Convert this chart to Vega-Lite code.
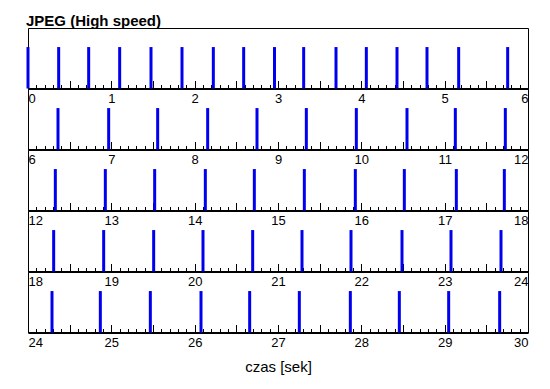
{
  "$schema": "https://vega.github.io/schema/vega-lite/v6.json",
  "padding": {"left": 26, "top": 13, "right": 24, "bottom": 10},
  "background": "white",
  "title": {"text": "JPEG (High speed)", "anchor": "start", "font": "Liberation Sans", "fontSize": 15, "fontWeight": "bold", "color": "black", "baseline": "bottom", "offset": -16},
  "data": {"values": [
    {"t": 0.0}, {"t": 0.368}, {"t": 0.728}, {"t": 1.1}, {"t": 1.476}, {"t": 1.848}, {"t": 2.224}, {"t": 2.588}, {"t": 2.958},
    {"t": 3.308}, {"t": 3.696}, {"t": 4.06}, {"t": 4.428}, {"t": 4.788}, {"t": 5.168}, {"t": 5.756},
    {"t": 6.36}, {"t": 6.968}, {"t": 7.556}, {"t": 8.156}, {"t": 8.748}, {"t": 9.34}, {"t": 9.94}, {"t": 10.548}, {"t": 11.128}, {"t": 11.728},
    {"t": 12.328}, {"t": 12.928}, {"t": 13.52}, {"t": 14.128}, {"t": 14.716}, {"t": 15.316}, {"t": 15.928}, {"t": 16.516}, {"t": 17.14}, {"t": 17.716},
    {"t": 18.308}, {"t": 18.908}, {"t": 19.508}, {"t": 20.1}, {"t": 20.696}, {"t": 21.288}, {"t": 21.876}, {"t": 22.488}, {"t": 23.076}, {"t": 23.676},
    {"t": 24.288}, {"t": 24.868}, {"t": 25.468}, {"t": 26.076}, {"t": 26.66}, {"t": 27.256}, {"t": 27.868}, {"t": 28.456}, {"t": 29.048}, {"t": 29.66}
  ]},
  "bounds": "flush",
  "spacing": 0,
  "vconcat": [
    {
      "width": 500, "height": 60.5,
      "transform": [{"filter": {"field": "t", "range": [0, 5.999]}}],
      "mark": {"type": "rule", "strokeWidth": 3, "color": "#0000ee"},
      "encoding": {
        "x": {"field": "t", "type": "quantitative", "scale": {"domain": [0, 6], "nice": false, "zero": false},
          "axis": {"title": null, "tickCount": 60, "labelExpr": "abs(datum.value - round(datum.value)) < 0.001 ? format(datum.value, 'd') : ''",
            "tickSize": {"condition": {"test": "abs(datum.value*2 - round(datum.value*2)) < 0.001", "value": -8}, "value": -4}}},
        "y": {"datum": 0, "type": "quantitative", "scale": {"domain": [0, 1.46]}, "axis": null},
        "y2": {"datum": 1}
      }
    },
    {
      "width": 500, "height": 60.5,
      "transform": [{"filter": {"field": "t", "range": [6, 11.999]}}],
      "mark": {"type": "rule", "strokeWidth": 3, "color": "#0000ee"},
      "encoding": {
        "x": {"field": "t", "type": "quantitative", "scale": {"domain": [6, 12], "nice": false, "zero": false},
          "axis": {"title": null, "tickCount": 60, "labelExpr": "abs(datum.value - round(datum.value)) < 0.001 ? format(datum.value, 'd') : ''",
            "tickSize": {"condition": {"test": "abs(datum.value*2 - round(datum.value*2)) < 0.001", "value": -8}, "value": -4}}},
        "y": {"datum": 0, "type": "quantitative", "scale": {"domain": [0, 1.46]}, "axis": null},
        "y2": {"datum": 1}
      }
    },
    {
      "width": 500, "height": 60.5,
      "transform": [{"filter": {"field": "t", "range": [12, 17.999]}}],
      "mark": {"type": "rule", "strokeWidth": 3, "color": "#0000ee"},
      "encoding": {
        "x": {"field": "t", "type": "quantitative", "scale": {"domain": [12, 18], "nice": false, "zero": false},
          "axis": {"title": null, "tickCount": 60, "labelExpr": "abs(datum.value - round(datum.value)) < 0.001 ? format(datum.value, 'd') : ''",
            "tickSize": {"condition": {"test": "abs(datum.value*2 - round(datum.value*2)) < 0.001", "value": -8}, "value": -4}}},
        "y": {"datum": 0, "type": "quantitative", "scale": {"domain": [0, 1.46]}, "axis": null},
        "y2": {"datum": 1}
      }
    },
    {
      "width": 500, "height": 60.5,
      "transform": [{"filter": {"field": "t", "range": [18, 23.999]}}],
      "mark": {"type": "rule", "strokeWidth": 3, "color": "#0000ee"},
      "encoding": {
        "x": {"field": "t", "type": "quantitative", "scale": {"domain": [18, 24], "nice": false, "zero": false},
          "axis": {"title": null, "tickCount": 60, "labelExpr": "abs(datum.value - round(datum.value)) < 0.001 ? format(datum.value, 'd') : ''",
            "tickSize": {"condition": {"test": "abs(datum.value*2 - round(datum.value*2)) < 0.001", "value": -8}, "value": -4}}},
        "y": {"datum": 0, "type": "quantitative", "scale": {"domain": [0, 1.46]}, "axis": null},
        "y2": {"datum": 1}
      }
    },
    {
      "width": 500, "height": 60.5,
      "transform": [{"filter": {"field": "t", "range": [24, 29.999]}}],
      "mark": {"type": "rule", "strokeWidth": 3, "color": "#0000ee"},
      "encoding": {
        "x": {"field": "t", "type": "quantitative", "scale": {"domain": [24, 30], "nice": false, "zero": false},
          "axis": {"title": "czas [sek]", "titleFont": "Liberation Sans", "titleFontSize": 15, "titleFontWeight": "normal", "titleColor": "black", "titlePadding": 6,
            "tickCount": 60, "labelExpr": "abs(datum.value - round(datum.value)) < 0.001 ? format(datum.value, 'd') : ''",
            "tickSize": {"condition": {"test": "abs(datum.value*2 - round(datum.value*2)) < 0.001", "value": -8}, "value": -4}}},
        "y": {"datum": 0, "type": "quantitative", "scale": {"domain": [0, 1.46]}, "axis": null},
        "y2": {"datum": 1}
      }
    }
  ],
  "config": {
    "view": {"stroke": "black", "strokeWidth": 1},
    "axis": {
      "domainColor": "black", "domainWidth": 2, "tickColor": "black", "tickWidth": 1,
      "labelFont": "Liberation Sans", "labelFontSize": 13, "labelColor": "black", "labelPadding": 12,
      "labelFlush": true, "labelOverlap": false, "labelBound": false, "grid": false, "zindex": 0
    }
  }
}
